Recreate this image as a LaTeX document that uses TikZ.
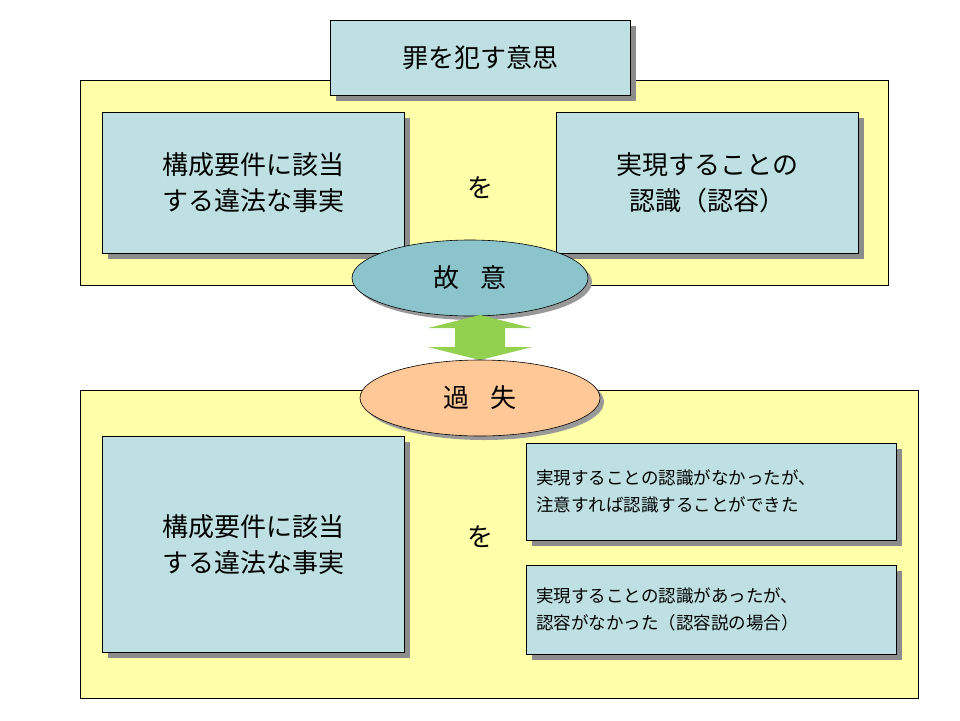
\documentclass[tikz,border=0pt]{standalone}
\usepackage{fontspec}
\newfontfamily\cjk{Noto Sans CJK JP}
\usetikzlibrary{shapes.geometric,shadows}
\definecolor{ylw}{RGB}{255,255,170}
\definecolor{cyb}{RGB}{190,224,226}
\definecolor{teal}{RGB}{140,196,204}
\definecolor{orng}{RGB}{255,200,150}
\definecolor{grn}{RGB}{146,208,80}
\begin{document}
\begin{tikzpicture}[x=1pt,y=-1pt,
  yb/.style={draw=black,line width=0.6pt,fill=ylw,inner sep=0},
  bx/.style={draw=black,line width=0.6pt,fill=cyb,inner sep=0,anchor=north west,
    drop shadow={shadow xshift=6pt,shadow yshift=-6pt,fill=black!45,opacity=1},
    font=\cjk\fontsize{26}{36}\selectfont,align=center},
  sbx/.style={bx,font=\cjk\fontsize{17.5}{27}\selectfont,align=left,text width=350pt},
  el/.style={ellipse,draw=black,line width=0.6pt,
    drop shadow={shadow xshift=4pt,shadow yshift=-4pt,fill=black!40,opacity=1},
    font=\cjk\fontsize{26}{30}\selectfont},
  wo/.style={font=\cjk\fontsize{26}{30}\selectfont}]
\useasboundingbox (0,0) rectangle (960,720);
\fill[white] (0,0) rectangle (960,720);
% top
\node[yb,minimum width=808pt,minimum height=205pt,anchor=north west] (y1) at (80,80) {};
\node[bx,minimum width=300pt,minimum height=75pt] (t) at (330,20) {罪を犯す意思};
\node[bx,minimum width=302pt,minimum height=141pt] (l1) at (102,112) {構成要件に該当\\する違法な事実};
\node[bx,minimum width=302pt,minimum height=141pt] (r1) at (556,112) {実現することの\\認識（認容）};
\node[wo] (w1) at (480,188) {を};
\node[el,fill=teal,minimum width=236pt,minimum height=76pt] (e1) at (470,278) {故\hspace{0.8em}意};
% arrow
\fill[grn] (480,315) coordinate (atop) -- (532,328) -- (505,328) -- (505,347) -- (532,347) -- (480,360) coordinate (abot)
  -- (428,347) -- (455,347) -- (455,328) -- (428,328) -- cycle;
% bottom
\node[yb,minimum width=838pt,minimum height=308pt,anchor=north west] (y2) at (80,390) {};
\node[el,fill=orng,minimum width=240pt,minimum height=76pt] (e2) at (480,398) {過\hspace{0.8em}失};
\node[bx,minimum width=302pt,minimum height=216pt] (l2) at (102,436) {構成要件に該当\\する違法な事実};
\node[wo] (w2) at (480,537) {を};
\node[sbx,minimum width=370pt,minimum height=97pt,inner xsep=10pt] (r2) at (526,443) {実現することの認識がなかったが、\\注意すれば認識することができた};
\node[sbx,minimum width=370pt,minimum height=89pt,inner xsep=10pt] (r3) at (526,565) {実現することの認識があったが、\\認容がなかった（認容説の場合）};
\end{tikzpicture}
\end{document}
